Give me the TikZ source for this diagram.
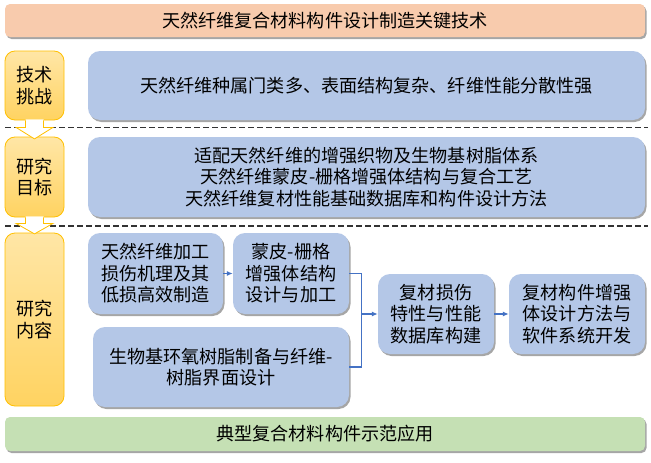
\documentclass[tikz,border=0pt]{standalone}
\usepackage{fontspec}
\setmainfont{Noto Sans CJK SC}
\usetikzlibrary{arrows.meta,shadows,calc}
\definecolor{peach}{HTML}{F8CBAD}
\definecolor{lblue}{HTML}{B4C7E7}
\definecolor{lgreen}{HTML}{C5E0B4}
\definecolor{gold}{HTML}{FFC000}
\definecolor{otop}{HTML}{FFE6A6}
\definecolor{obot}{HTML}{FFD361}
\definecolor{conncol}{HTML}{4472C4}
\definecolor{sepcol}{HTML}{333333}
\begin{document}
\begin{tikzpicture}[x=1pt,y=-1pt,
  every node/.style={font=\fontsize{18.1}{21.5}\selectfont, align=center, inner sep=0pt},
  shad/.style={drop shadow={shadow xshift=1.5pt, shadow yshift=-2pt, fill=black, opacity=0.35}},
  banner/.style={rectangle, rounded corners=5pt, shad},
  bluebox/.style={rectangle, rounded corners=12pt, fill=lblue, shad},
  sidebox/.style={rectangle, rounded corners=10pt, top color=otop, bottom color=obot, draw=gold, line width=0.8pt, minimum width=59pt},
  conn/.style={draw=conncol, line width=1.2pt, -{Latex[length=6pt,width=5pt]}},
  connline/.style={draw=conncol, line width=1.2pt},
  sepline/.style={draw=sepcol, line width=1.6pt, dash pattern=on 5.5pt off 3.5pt}]
\fill[white] (0,0) rectangle (651,463);
\useasboundingbox (0,0) rectangle (651,463);

% banners
\node[banner, fill=peach, minimum width=640pt, minimum height=33pt] (title) at (325,20.5) {天然纤维复合材料构件设计制造关键技术};
\node[banner, fill=lgreen, minimum width=640pt, minimum height=34pt] (demo) at (325,434) {典型复合材料构件示范应用};

% separators
\draw[sepline] (5,127.5) -- (648,127.5);
\draw[sepline] (5,226) -- (648,226);

% side boxes
\node[sidebox, minimum height=69pt] (L1) at (34.5,85.5) {技术\\挑战};
\node[sidebox, minimum height=80pt] (L2) at (34.5,177) {研究\\目标};
\node[sidebox, minimum height=173pt] (L3) at (34.5,319.5) {研究\\内容};

% block arrows
\begin{scope}[shift={(L1.south)}]
  \fill[white] (-9,-1) -- (-9,7) -- (-18.5,7) -- (0,18.5) -- (18.5,7) -- (9,7) -- (9,-1) -- cycle;
  \draw[gold, line width=0.8pt, line join=miter] (-9,0) -- (-9,7) -- (-18.5,7) -- (0,18.5) -- (18.5,7) -- (9,7) -- (9,0);
\end{scope}
\begin{scope}[shift={(L2.south)}]
  \fill[white] (-9,-1) -- (-9,6) -- (-18.5,6) -- (0,16.5) -- (18.5,6) -- (9,6) -- (9,-1) -- cycle;
  \draw[gold, line width=0.8pt, line join=miter] (-9,0) -- (-9,6) -- (-18.5,6) -- (0,16.5) -- (18.5,6) -- (9,6) -- (9,0);
\end{scope}

% right boxes
\node[bluebox, minimum width=557pt, minimum height=69pt] (C) at (366.5,85.5) {天然纤维种属门类多、表面结构复杂、纤维性能分散性强};
\node[bluebox, minimum width=557pt, minimum height=80pt] (G) at (366.5,177) {适配天然纤维的增强织物及生物基树脂体系\\天然纤维蒙皮-栅格增强体结构与复合工艺\\天然纤维复材性能基础数据库和构件设计方法};

\node[bluebox, minimum width=135pt, minimum height=81pt] (b1) at (155.5,273.5) {天然纤维加工\\损伤机理及其\\低损高效制造};
\node[bluebox, minimum width=116pt, minimum height=81pt] (b2) at (291,273.5) {蒙皮-栅格\\增强体结构\\设计与加工};
\node[bluebox, minimum width=256pt, minimum height=80pt] (b3) at (221,367) {生物基环氧树脂制备与纤维-\\树脂界面设计};
\node[bluebox, minimum width=116pt, minimum height=80pt] (b4) at (436,314) {复材损伤\\特性与性能\\数据库构建};
\node[bluebox, minimum width=136pt, minimum height=80pt] (b5) at (577,314) {复材构件增强\\体设计方法与\\软件系统开发};

% connectors
\coordinate (j) at ($(b4.west)+(-16,0)$);
\draw[conn] (b1.east) -- (b2.west);
\draw[connline] (b2.east) -- (b2.east -| j) -- (b3.east -| j) -- (b3.east);
\draw[conn] (j) -- (b4.west);
\draw[conn] (b4.east) -- (b5.west);
\end{tikzpicture}
\end{document}
